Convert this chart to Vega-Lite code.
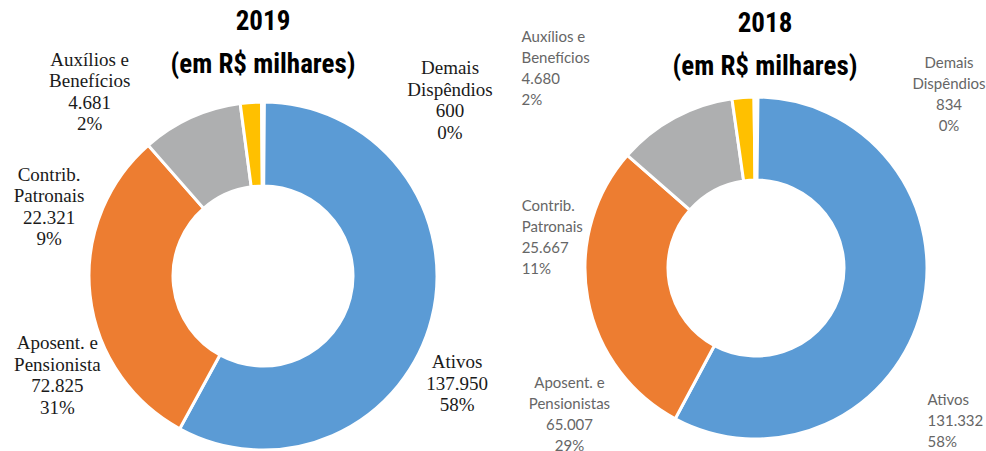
{
  "$schema": "https://vega.github.io/schema/vega-lite/v6.json",
  "padding": 0,
  "bounds": "flush",
  "spacing": 0,
  "background": "#ffffff",
  "config": {"view": {"stroke": null}, "concat": {"spacing": 0}},
  "datasets": {
    "d2019": [
      {"ordem": 1, "categoria": "Ativos", "nome": "Ativos", "valor": 137950, "pct": 58},
      {"ordem": 2, "categoria": "Aposentados", "nome": "Aposent. e\nPensionista", "valor": 72825, "pct": 31},
      {"ordem": 3, "categoria": "Contribuicoes", "nome": "Contrib.\nPatronais", "valor": 22321, "pct": 9},
      {"ordem": 4, "categoria": "Auxilios", "nome": "Auxílios e\nBenefícios", "valor": 4681, "pct": 2},
      {"ordem": 5, "categoria": "Demais", "nome": "Demais\nDispêndios", "valor": 600, "pct": 0}
    ],
    "d2018": [
      {"ordem": 1, "categoria": "Ativos", "nome": "Ativos", "valor": 131332, "pct": 58},
      {"ordem": 2, "categoria": "Aposentados", "nome": "Aposent. e\nPensionistas", "valor": 65007, "pct": 29},
      {"ordem": 3, "categoria": "Contribuicoes", "nome": "Contrib.\nPatronais", "valor": 25667, "pct": 11},
      {"ordem": 4, "categoria": "Auxilios", "nome": "Auxílios e\nBenefícios", "valor": 4680, "pct": 2},
      {"ordem": 5, "categoria": "Demais", "nome": "Demais\nDispêndios", "valor": 834, "pct": 0}
    ]
  },
  "hconcat": [
    {
      "width": 526,
      "height": 552,
      "title": {"text": ["2019", "(em R$ milhares)"], "frame": "group", "font": "Liberation Sans Narrow, Roboto Condensed, DejaVu Sans Condensed, sans-serif", "fontSize": 27, "fontWeight": "bold", "lineHeight": 43, "color": "#000000", "anchor": "middle", "offset": -79},
      "data": {"name": "d2019"},
      "transform": [
        {"stack": "valor", "groupby": [], "sort": [{"field": "ordem", "order": "ascending"}], "as": ["ini", "fim"]},
        {"calculate": "(datum.ini + datum.fim) / 2", "as": "meio"},
        {"calculate": "datum.nome + '\\n' + replace(format(datum.valor, ','), ',', '.') + '\\n' + datum.pct + '%'", "as": "rotulo"}
      ],
      "layer": [
        {
          "mark": {"type": "arc", "innerRadius": 90, "outerRadius": 174, "stroke": "#ffffff", "strokeWidth": 3},
          "encoding": {
            "theta": {"field": "ini", "type": "quantitative"},
            "theta2": {"field": "fim"},
            "color": {"field": "categoria", "type": "nominal", "legend": null, "scale": {"domain": ["Ativos", "Aposentados", "Contribuicoes", "Auxilios", "Demais"], "range": ["#5B9BD5", "#ED7D31", "#AEAFB0", "#FFC000", "#FFFFFF"]}}
          }
        },
        {
          "transform": [{"filter": "datum.categoria === 'Ativos'"}],
          "mark": {"type": "text", "radius": 220, "dx": -19, "dy": 32, "align": "center", "baseline": "middle", "lineBreak": "\n", "font": "Liberation Serif", "fontSize": 19, "lineHeight": 21.5, "color": "#1a1a1a"},
          "encoding": {"theta": {"field": "meio", "type": "quantitative"}, "text": {"field": "rotulo", "type": "nominal"}}
        },
        {
          "transform": [{"filter": "datum.categoria === 'Aposentados'"}],
          "mark": {"type": "text", "radius": 220, "dx": 13, "dy": 43, "align": "center", "baseline": "middle", "lineBreak": "\n", "font": "Liberation Serif", "fontSize": 19, "lineHeight": 21.5, "color": "#1a1a1a"},
          "encoding": {"theta": {"field": "meio", "type": "quantitative"}, "text": {"field": "rotulo", "type": "nominal"}}
        },
        {
          "transform": [{"filter": "datum.categoria === 'Contribuicoes'"}],
          "mark": {"type": "text", "radius": 220, "dx": -123, "dy": 99, "align": "center", "baseline": "middle", "lineBreak": "\n", "font": "Liberation Serif", "fontSize": 19, "lineHeight": 21.5, "color": "#1a1a1a"},
          "encoding": {"theta": {"field": "meio", "type": "quantitative"}, "text": {"field": "rotulo", "type": "nominal"}}
        },
        {
          "transform": [{"filter": "datum.categoria === 'Auxilios'"}],
          "mark": {"type": "text", "radius": 220, "dx": -158, "dy": 3, "align": "center", "baseline": "middle", "lineBreak": "\n", "font": "Liberation Serif", "fontSize": 19, "lineHeight": 21.5, "color": "#1a1a1a"},
          "encoding": {"theta": {"field": "meio", "type": "quantitative"}, "text": {"field": "rotulo", "type": "nominal"}}
        },
        {
          "transform": [{"filter": "datum.categoria === 'Demais'"}],
          "mark": {"type": "text", "radius": 220, "dx": 187, "dy": 12, "align": "center", "baseline": "middle", "lineBreak": "\n", "font": "Liberation Serif", "fontSize": 19, "lineHeight": 21.5, "color": "#1a1a1a"},
          "encoding": {"theta": {"field": "meio", "type": "quantitative"}, "text": {"field": "rotulo", "type": "nominal"}}
        }
      ]
    },
    {
      "width": 460,
      "height": 536,
      "title": {"text": ["2018", "(em R$ milhares)"], "frame": "group", "font": "Liberation Sans Narrow, Roboto Condensed, DejaVu Sans Condensed, sans-serif", "fontSize": 27, "fontWeight": "bold", "lineHeight": 43, "color": "#000000", "anchor": "middle", "dx": 9, "offset": -81},
      "data": {"name": "d2018"},
      "transform": [
        {"stack": "valor", "groupby": [], "sort": [{"field": "ordem", "order": "ascending"}], "as": ["ini", "fim"]},
        {"calculate": "(datum.ini + datum.fim) / 2", "as": "meio"},
        {"calculate": "datum.nome + '\\n' + replace(format(datum.valor, ','), ',', '.') + '\\n' + datum.pct + '%'", "as": "rotulo"}
      ],
      "layer": [
        {
          "mark": {"type": "arc", "innerRadius": 88, "outerRadius": 171, "stroke": "#ffffff", "strokeWidth": 3},
          "encoding": {
            "theta": {"field": "ini", "type": "quantitative"},
            "theta2": {"field": "fim"},
            "color": {"field": "categoria", "type": "nominal", "legend": null, "scale": {"domain": ["Ativos", "Aposentados", "Contribuicoes", "Auxilios", "Demais"], "range": ["#5B9BD5", "#ED7D31", "#AEAFB0", "#FFC000", "#FFFFFF"]}}
          }
        },
        {
          "transform": [{"filter": "datum.categoria === 'Ativos'"}],
          "mark": {"type": "text", "radius": 215, "dx": -37, "dy": 80, "align": "left", "baseline": "middle", "lineBreak": "\n", "font": "Lato", "fontSize": 15, "lineHeight": 21, "color": "#666666"},
          "encoding": {"theta": {"field": "meio", "type": "quantitative"}, "text": {"field": "rotulo", "type": "nominal"}}
        },
        {
          "transform": [{"filter": "datum.categoria === 'Aposentados'"}],
          "mark": {"type": "text", "radius": 215, "dx": 25, "dy": 77, "align": "center", "baseline": "middle", "lineBreak": "\n", "font": "Lato", "fontSize": 15, "lineHeight": 21, "color": "#666666"},
          "encoding": {"theta": {"field": "meio", "type": "quantitative"}, "text": {"field": "rotulo", "type": "nominal"}}
        },
        {
          "transform": [{"filter": "datum.categoria === 'Contribuicoes'"}],
          "mark": {"type": "text", "radius": 215, "dx": -132, "dy": 127, "align": "left", "baseline": "middle", "lineBreak": "\n", "font": "Lato", "fontSize": 15, "lineHeight": 21, "color": "#666666"},
          "encoding": {"theta": {"field": "meio", "type": "quantitative"}, "text": {"field": "rotulo", "type": "nominal"}}
        },
        {
          "transform": [{"filter": "datum.categoria === 'Auxilios'"}],
          "mark": {"type": "text", "radius": 215, "dx": -218, "dy": -17, "align": "left", "baseline": "middle", "lineBreak": "\n", "font": "Lato", "fontSize": 15, "lineHeight": 21, "color": "#666666"},
          "encoding": {"theta": {"field": "meio", "type": "quantitative"}, "text": {"field": "rotulo", "type": "nominal"}}
        },
        {
          "transform": [{"filter": "datum.categoria === 'Demais'"}],
          "mark": {"type": "text", "radius": 215, "dx": 193, "dy": 10, "align": "center", "baseline": "middle", "lineBreak": "\n", "font": "Lato", "fontSize": 15, "lineHeight": 21, "color": "#666666"},
          "encoding": {"theta": {"field": "meio", "type": "quantitative"}, "text": {"field": "rotulo", "type": "nominal"}}
        }
      ]
    }
  ]
}
